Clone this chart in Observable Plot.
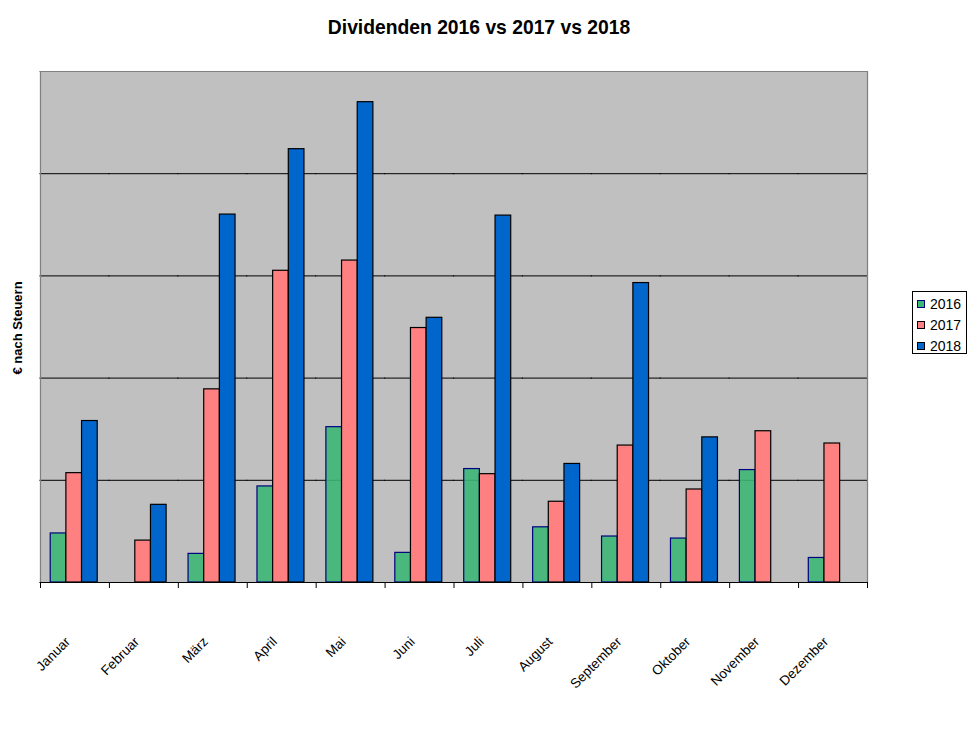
<!DOCTYPE html>
<html>
<head>
<meta charset="utf-8">
<script src="https://cdn.jsdelivr.net/npm/d3@7"></script>
<script src="https://cdn.jsdelivr.net/npm/@observablehq/plot@0.6"></script>
<style>
  body { margin: 0; background: #fff; font-family: "Liberation Sans", Arial, sans-serif; color: #000; }
  #wrap { position: relative; width: 972px; height: 729px; overflow: hidden; }
  #chart { position: absolute; left: 0; top: 0; }
  #title { position: absolute; left: 0; top: 18px; width: 958px; text-align: center; font-weight: bold; font-size: 19.3px; line-height: 1; }
  #ylabel { position: absolute; left: 16.5px; top: 328px; transform: translate(-50%, -50%) rotate(-90deg); font-weight: bold; font-size: 13px; white-space: nowrap; line-height: 1; }
  #legend { position: absolute; left: 912px; top: 291px; width: 55px; height: 63px; border: 1px solid #000; background: #fff; box-sizing: border-box; padding-top: 1px; }
  .row { display: flex; align-items: center; height: 21px; font-size: 14px; line-height: 1; }
  .sw { width: 6px; height: 6px; margin-left: 4px; margin-right: 5px; border: 1px solid #000; }
</style>
</head>
<body>
<div id="wrap">
  <div id="chart"></div>
  <div id="title">Dividenden 2016 vs 2017 vs 2018</div>
  <div id="ylabel">€ nach Steuern</div>
  <div id="legend"></div>
</div>
<script>
// ---- data ----
const months = ["Januar", "Februar", "März", "April", "Mai", "Juni", "Juli", "August", "September", "Oktober", "November", "Dezember"];
const years = ["2016", "2017", "2018"];
const values2016 = [48, null, 28, 94, 152, 29, 111, 54, 45, 43, 110, 24];
const values2017 = [107, 41, 189, 305, 315, 249, 106, 79, 134, 91, 148, 136];
const values2018 = [158, 76, 360, 424, 470, 259, 359, 116, 293, 142, null, null];
const yTicks = [0, 100, 200, 300, 400, 500];

const series = {"2016": values2016, "2017": values2017, "2018": values2018};
const styles = {
  "2016": {fill: "#3db775", stroke: "#000080", fillOpacity: 0.9},
  "2017": {fill: "#ff8080", stroke: "#000000", fillOpacity: 1},
  "2018": {fill: "#0066cc", stroke: "#000000", fillOpacity: 1}
};

const data = months.flatMap((month, i) =>
  years.filter(y => series[y][i] != null).map(year => ({month, year, value: series[year][i]}))
);

const W = 972, H = 729, mL = 40, mR = 105, mT = 71, mB = 147;
const innerH = H - mT - mB;

const chart = Plot.plot({
  width: W,
  height: H,
  marginLeft: mL,
  marginRight: mR,
  marginTop: mT,
  marginBottom: mB,
  style: {fontFamily: "'Liberation Sans', Arial, sans-serif", fontSize: "13px", color: "#000", background: "transparent", overflow: "visible"},
  fx: {domain: months, padding: 0, round: false, label: null},
  x: {domain: years, paddingInner: 0, paddingOuter: 0.7, align: 0.466, round: false, axis: null},
  y: {domain: [yTicks[0], yTicks[yTicks.length - 1]], axis: null},
  marks: [
    Plot.frame({fill: "#c0c0c0", stroke: null, insetLeft: -0.6, insetRight: -0.6}),
    Plot.ruleY(yTicks.slice(1, -1), {stroke: "#000", strokeWidth: 1, insetLeft: -0.6, insetRight: -0.6}),
    ...years.map(year => Plot.barY(data.filter(d => d.year === year), {
      fx: "month", x: "year", y: "value",
      fill: styles[year].fill, fillOpacity: styles[year].fillOpacity,
      stroke: styles[year].stroke, strokeWidth: 1.2
    })),
    Plot.ruleY([yTicks[yTicks.length - 1]], {stroke: "#808080", strokeWidth: 1.2, insetLeft: -0.6, insetRight: -0.6}),
    Plot.frame({anchor: "left", stroke: "#808080", strokeWidth: 1.2, facetAnchor: "left"}),
    Plot.frame({anchor: "right", stroke: "#808080", strokeWidth: 1.2, facetAnchor: "right"}),
    Plot.ruleY([yTicks[0]], {stroke: "#000", strokeWidth: 1.2, insetLeft: -0.6, insetRight: -0.6}),
    Plot.frame({anchor: "left", stroke: "#000", insetTop: innerH, insetBottom: -5}),
    Plot.frame({anchor: "right", stroke: "#000", insetTop: innerH, insetBottom: -5, facetAnchor: "right"}),
    Plot.axisFx({anchor: "bottom", tickSize: 0, tickPadding: 57, tickRotate: -45, dx: -7, fontSize: 13.5, label: null})
  ]
});
document.getElementById("chart").appendChild(chart);

// legend
const legend = document.getElementById("legend");
years.forEach(year => {
  const row = document.createElement("div");
  row.className = "row";
  const sw = document.createElement("span");
  sw.className = "sw";
  sw.style.background = styles[year].fill;
  sw.style.borderColor = styles[year].stroke;
  const label = document.createElement("span");
  label.textContent = year;
  row.appendChild(sw);
  row.appendChild(label);
  legend.appendChild(row);
});
</script>
</body>
</html>
